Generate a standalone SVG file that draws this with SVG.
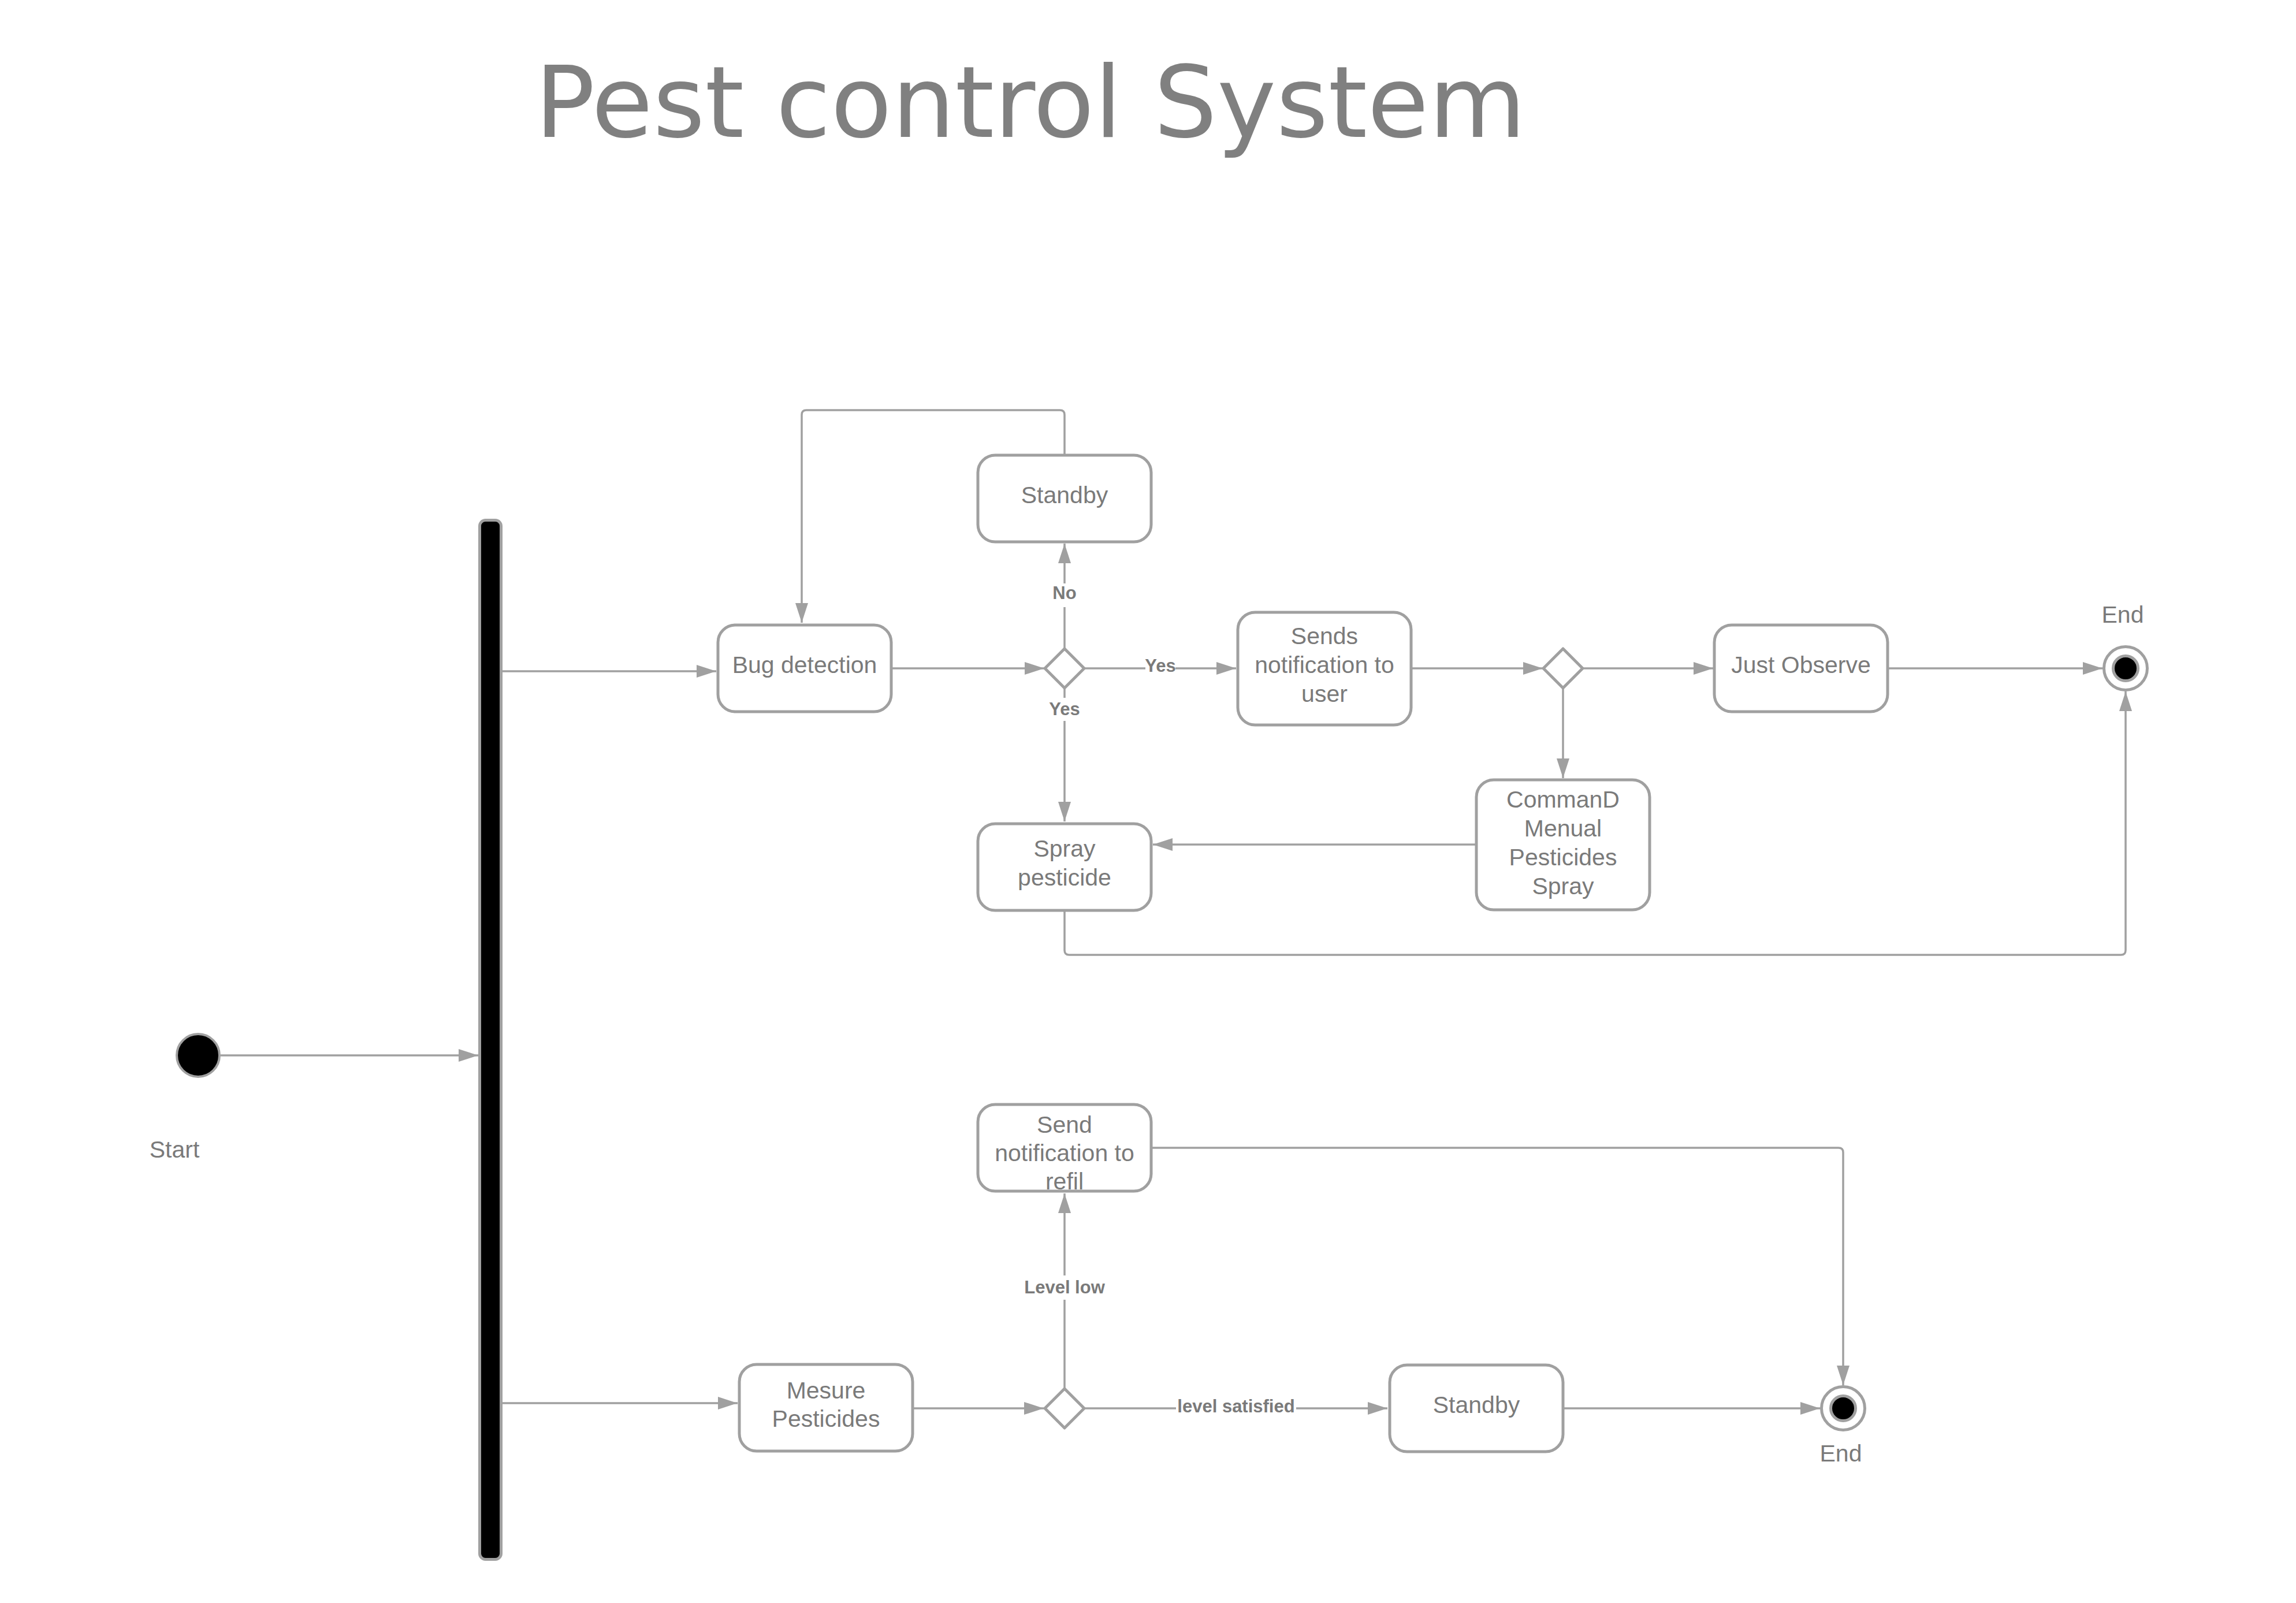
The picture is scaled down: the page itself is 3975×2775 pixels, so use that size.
<svg xmlns="http://www.w3.org/2000/svg" width="3975" height="2775" viewBox="0 0 3975 2775">
<defs>
<marker id="arr" markerUnits="userSpaceOnUse" markerWidth="34" markerHeight="22" refX="34" refY="11" orient="auto"><path d="M0,0 L34,11 L0,22 z" fill="#a0a0a0"/></marker>
<style>
.box{fill:#fff;stroke:#a0a0a0;stroke-width:5}
.dia{fill:#fff;stroke:#a0a0a0;stroke-width:5;stroke-linejoin:round}
.t{font-family:"Liberation Sans",Arial,sans-serif;font-size:41px;fill:#7a7a7a;text-anchor:middle}
.lbl{font-family:"Liberation Sans",Arial,sans-serif;font-size:31px;font-weight:bold;fill:#7a7a7a;text-anchor:middle}
.c{fill:none;stroke:#a0a0a0;stroke-width:3.5;marker-end:url(#arr)}
.lb{fill:#fff}
</style>
</defs>
<rect width="3975" height="2775" fill="#fff"/>
<text x="926" y="237" font-family="'DejaVu Sans',sans-serif" font-size="172" fill="#808080" textLength="1716" lengthAdjust="spacingAndGlyphs">Pest control System</text>

<g id="connectors">
<path class="c" d="M382,1827 H828"/>
<path class="c" d="M870,1162 H1240"/>
<path class="c" d="M870,2429 H1277"/>
<path class="c" d="M1543,1157 H1808"/>
<path class="c" d="M1843,1123 V941"/>
<path class="c" d="M1843,788 V718 Q1843,710 1835,710 H1396 Q1388,710 1388,718 V1078"/>
<path class="c" d="M1877,1157 H2140"/>
<path class="c" d="M1843,1191 V1422"/>
<path class="c" d="M2443,1157 H2671"/>
<path class="c" d="M2740,1157 H2966"/>
<path class="c" d="M3268,1157 H3640"/>
<path class="c" d="M2706,1191 V1347"/>
<path class="c" d="M2556,1462 H1996"/>
<path class="c" d="M1843,1576 V1645 Q1843,1653 1851,1653 H3672 Q3680,1653 3680,1645 V1197"/>
<path class="c" d="M1580,2438 H1807"/>
<path class="c" d="M1843,2404 V2066"/>
<path class="c" d="M1993,1987 H3183 Q3191,1987 3191,1995 V2398"/>
<path class="c" d="M1877,2438 H2402"/>
<path class="c" d="M2706,2438 H3151"/>
<rect class="lb" x="1820" y="1010" width="46" height="41"/>
<text class="lbl" x="1843" y="1037">No</text>
<rect class="lb" x="1983" y="1140" width="52" height="30"/>
<text class="lbl" x="2009" y="1163">Yes</text>
<rect class="lb" x="1813" y="1208" width="60" height="40"/>
<text class="lbl" x="1843" y="1238">Yes</text>
<rect class="lb" x="1766" y="2208" width="154" height="42"/>
<text class="lbl" x="1843" y="2239">Level low</text>
<rect class="lb" x="2036" y="2420" width="208" height="32"/>
<text class="lbl" x="2140" y="2445">level satisfied</text>
</g>

<g id="start">
<circle cx="343" cy="1827" r="37" fill="#000" stroke="#a0a0a0" stroke-width="4"/>
<text class="t" x="302" y="2004">Start</text>
</g>
<g id="fork">
<rect x="830.5" y="900.5" width="37" height="1799" rx="10" fill="#000" stroke="#a0a0a0" stroke-width="5"/>
</g>
<g id="bug-detection">
<rect class="box" x="1243" y="1082" width="300" height="150" rx="30"/>
<text class="t" x="1393" y="1165">Bug detection</text>
</g>
<g id="standby-top">
<rect class="box" x="1693" y="788" width="300" height="150" rx="30"/>
<text class="t" x="1843" y="871">Standby</text>
</g>
<g id="decision-1">
<path class="dia" d="M1843,1123 L1877,1157 L1843,1191 L1809,1157 z"/>
</g>
<g id="sends-notification">
<rect class="box" x="2143" y="1060" width="300" height="195" rx="30"/>
<text class="t" x="2293" y="1115">Sends</text>
<text class="t" x="2293" y="1165">notification to</text>
<text class="t" x="2293" y="1215">user</text>
</g>
<g id="decision-2">
<path class="dia" d="M2706,1123 L2740,1157 L2706,1191 L2672,1157 z"/>
</g>
<g id="just-observe">
<rect class="box" x="2968" y="1082" width="300" height="150" rx="30"/>
<text class="t" x="3118" y="1165">Just Observe</text>
</g>
<g id="end-top">
<circle cx="3680" cy="1157" r="37.5" fill="#fff" stroke="#a0a0a0" stroke-width="5"/>
<circle cx="3680" cy="1157" r="21.5" fill="#000" stroke="#a0a0a0" stroke-width="5"/>
<text class="t" x="3675" y="1078">End</text>
</g>
<g id="command-manual">
<rect class="box" x="2556" y="1350" width="300" height="225" rx="30"/>
<text class="t" x="2706" y="1398">CommanD</text>
<text class="t" x="2706" y="1448">Menual</text>
<text class="t" x="2706" y="1498">Pesticides</text>
<text class="t" x="2706" y="1548">Spray</text>
</g>
<g id="spray-pesticide">
<rect class="box" x="1693" y="1426" width="300" height="150" rx="30"/>
<text class="t" x="1843" y="1483">Spray</text>
<text class="t" x="1843" y="1533">pesticide</text>
</g>
<g id="send-notification-refil">
<rect class="box" x="1693" y="1912" width="300" height="150" rx="30"/>
<text class="t" x="1843" y="1961">Send</text>
<text class="t" x="1843" y="2010">notification to</text>
<text class="t" x="1843" y="2059">refil</text>
</g>
<g id="mesure-pesticides">
<rect class="box" x="1280" y="2362" width="300" height="150" rx="30"/>
<text class="t" x="1430" y="2421">Mesure</text>
<text class="t" x="1430" y="2470">Pesticides</text>
</g>
<g id="decision-3">
<path class="dia" d="M1843,2404 L1877,2438 L1843,2472 L1809,2438 z"/>
</g>
<g id="standby-bottom">
<rect class="box" x="2406" y="2363" width="300" height="150" rx="30"/>
<text class="t" x="2556" y="2446">Standby</text>
</g>
<g id="end-bottom">
<circle cx="3191" cy="2438" r="37.5" fill="#fff" stroke="#a0a0a0" stroke-width="5"/>
<circle cx="3191" cy="2438" r="21.5" fill="#000" stroke="#a0a0a0" stroke-width="5"/>
<text class="t" x="3187" y="2530">End</text>
</g>
</svg>
